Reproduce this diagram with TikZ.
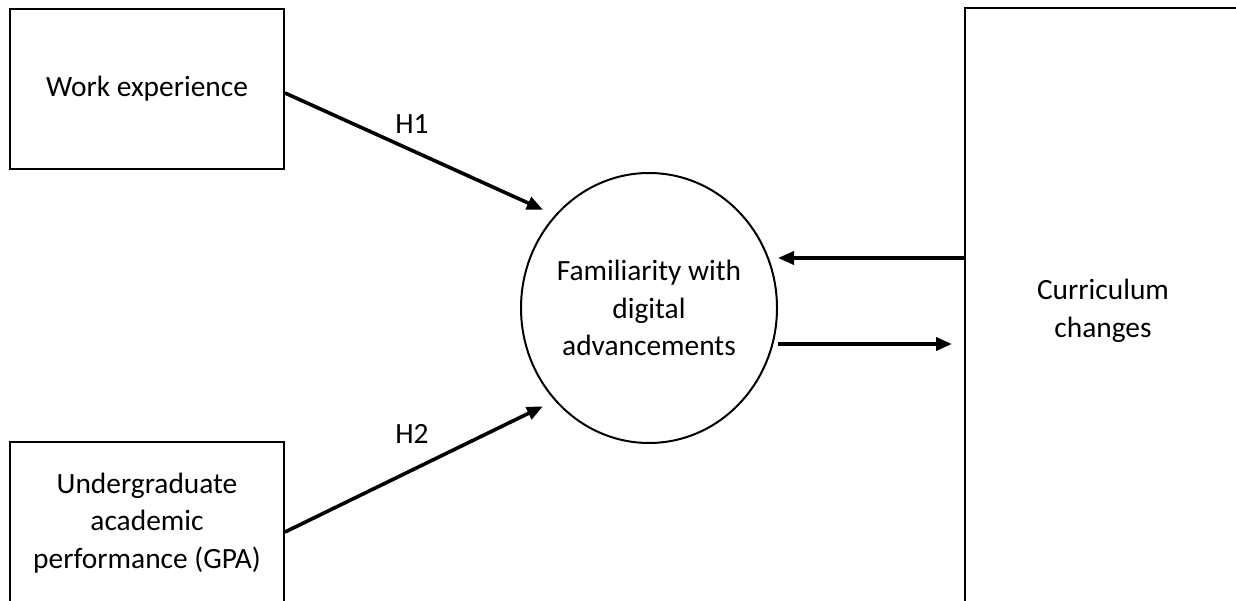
\documentclass[tikz,border=0pt]{standalone}
\usepackage{fontspec}
\setmainfont{Carlito}
\usetikzlibrary{arrows.meta,shapes.geometric}
\tikzset{
    txt/.style={font=\fontsize{29.4}{37.5}\selectfont,align=center},%text of all nodes
    varbox/.style={txt,draw,line width=2pt,rectangle,minimum width=274pt,minimum height=160pt},
    mediator/.style={txt,draw,line width=2pt,ellipse,inner xsep=-2pt,inner ysep=0pt,minimum width=256pt,minimum height=270pt},
    link/.style={->,line width=3.6pt}
    }

\begin{document}
\begin{tikzpicture}[line cap=butt,line join=miter,>={Triangle[length=16pt,width=13pt]},x=1pt,y=-1pt]
\useasboundingbox (0,0) rectangle (1236,601);
\clip (0,0) rectangle (1236,601);
% variables
\node[varbox] (work) at (147,89) {Work experience};
\node[varbox,minimum height=162pt] (gpa) at (147,523) {Undergraduate\\academic\\performance (GPA)};
\node[mediator] (fam) at (649,308) {Familiarity with\\digital\\advancements};
\node[varbox,minimum width=290pt,minimum height=640pt] (curr) at (1110,328) {};
\node[txt] (currtxt) at (1103,311) {Curriculum\\changes};
% hypotheses
\draw[link] ([yshift=-4pt]work.east) -- ([shift={(-8pt,10pt)}]fam.138);
\draw[link] ([yshift=-9pt]gpa.east) -- ([shift={(-8pt,-10pt)}]fam.222);
\node[txt] (h1) at (412,124) {H1};
\node[txt] (h2) at (412,434) {H2};
% feedback
\draw[link] (curr.west |- 0,258) -- (fam.east |- 0,258);
\draw[link] (fam.east |- 0,344) -- ([xshift=-12pt]curr.west |- 0,344);
\end{tikzpicture}
\end{document}
